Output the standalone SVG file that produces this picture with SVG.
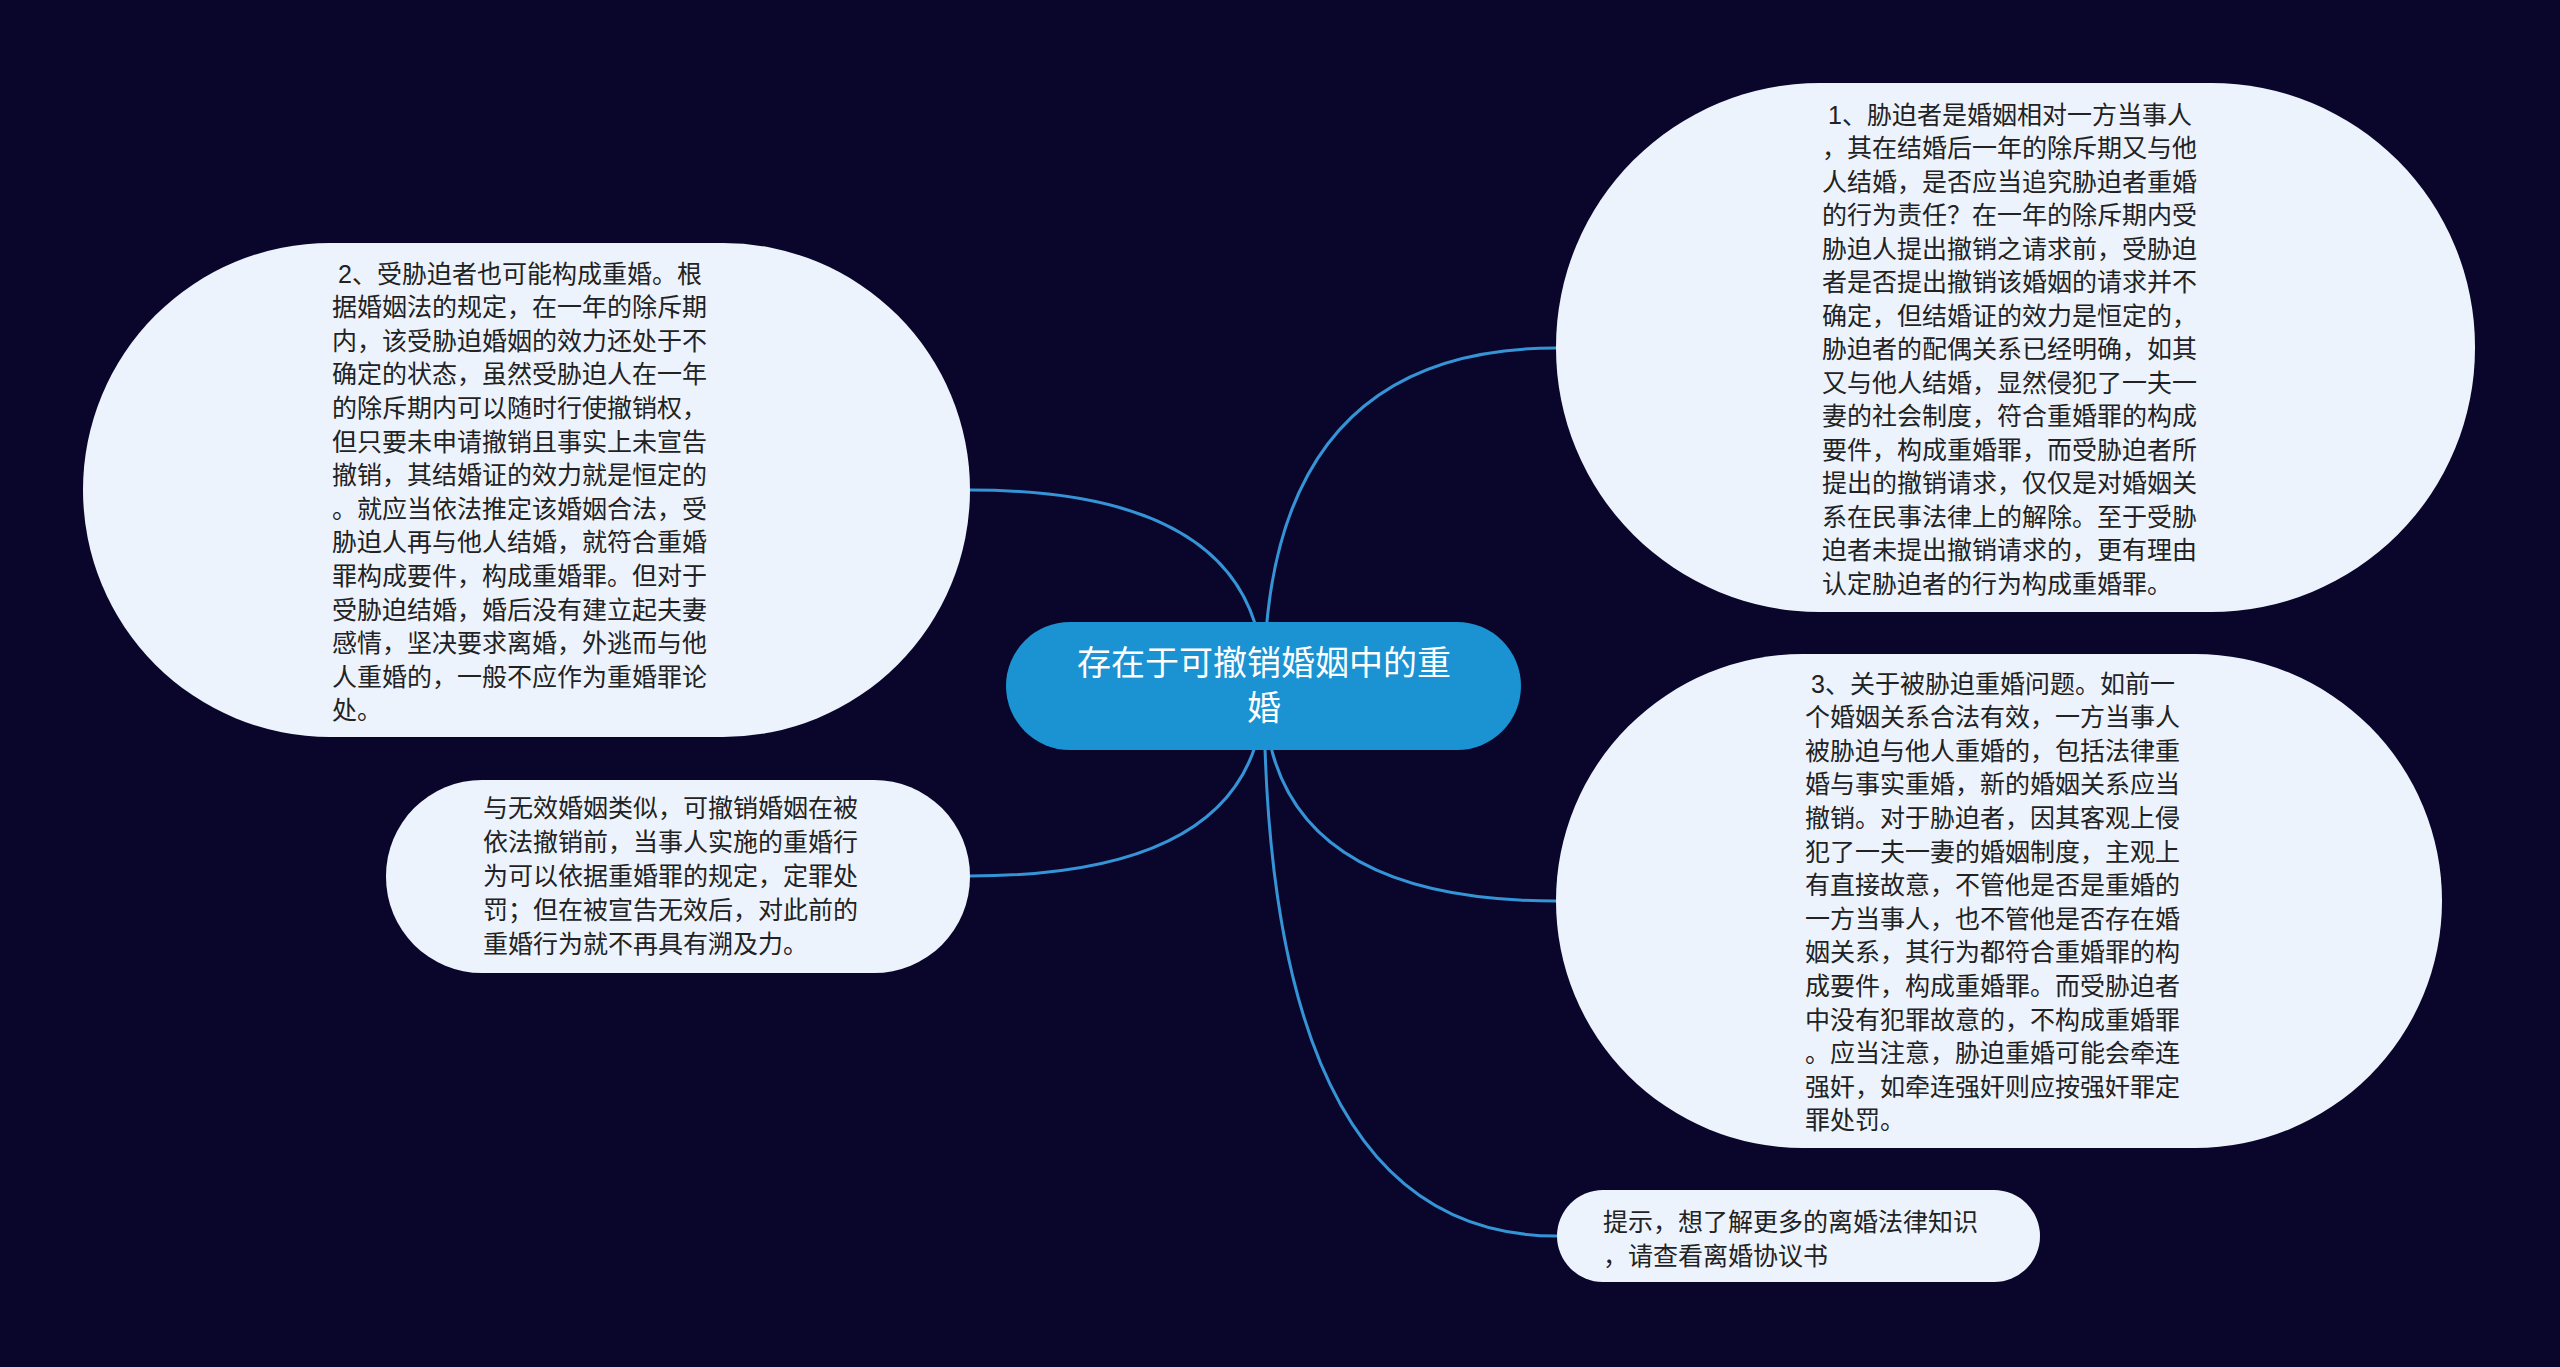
<svg xmlns="http://www.w3.org/2000/svg" width="2560" height="1367" viewBox="0 0 2560 1367">
<style>
.bg{fill:#0a062b}
.node{fill:#edf3fd}
.root{fill:#1b92d2}
.link{fill:none;stroke:#3594d6;stroke-width:3}
.t{font-family:"Liberation Sans","Noto Sans CJK SC",sans-serif;font-size:25px;fill:#222222}
.rt{font-family:"Liberation Sans","Noto Sans CJK SC",sans-serif;font-size:34px;fill:#ffffff;text-anchor:middle}
</style>
<rect class="bg" x="0" y="0" width="2560" height="1367"/>
<g id="connectors">
<path class="link" d="M1264,686 Q1264,348 1556,348"/>
<path class="link" d="M1264,686 Q1264,490 970,490"/>
<path class="link" d="M1264,686 Q1264,876 970,876"/>
<path class="link" d="M1264,686 Q1264,901 1556,901"/>
<path class="link" d="M1264,686 Q1264,1236 1557,1236"/>
</g>
<g id="root">
<rect class="root" x="1006" y="622" width="515" height="128" rx="64" ry="64"/>
<text class="rt" x="1264" y="675">存在于可撤销婚姻中的重</text>
<text class="rt" x="1264" y="720">婚</text>
</g>
<g id="node1">
<rect class="node" x="1556" y="83" width="919" height="529" rx="264" ry="264"/>
<text class="t" x="1822" y="123.5">
<tspan x="1828">1、胁迫者是婚姻相对一方当事人</tspan>
<tspan x="1822" dy="33.5">，其在结婚后一年的除斥期又与他</tspan>
<tspan x="1822" dy="33.5">人结婚，是否应当追究胁迫者重婚</tspan>
<tspan x="1822" dy="33.5">的行为责任？在一年的除斥期内受</tspan>
<tspan x="1822" dy="33.5">胁迫人提出撤销之请求前，受胁迫</tspan>
<tspan x="1822" dy="33.5">者是否提出撤销该婚姻的请求并不</tspan>
<tspan x="1822" dy="33.5">确定，但结婚证的效力是恒定的，</tspan>
<tspan x="1822" dy="33.5">胁迫者的配偶关系已经明确，如其</tspan>
<tspan x="1822" dy="33.5">又与他人结婚，显然侵犯了一夫一</tspan>
<tspan x="1822" dy="33.5">妻的社会制度，符合重婚罪的构成</tspan>
<tspan x="1822" dy="33.5">要件，构成重婚罪，而受胁迫者所</tspan>
<tspan x="1822" dy="33.5">提出的撤销请求，仅仅是对婚姻关</tspan>
<tspan x="1822" dy="33.5">系在民事法律上的解除。至于受胁</tspan>
<tspan x="1822" dy="33.5">迫者未提出撤销请求的，更有理由</tspan>
<tspan x="1822" dy="33.5">认定胁迫者的行为构成重婚罪。</tspan>
</text>
</g>
<g id="node2">
<rect class="node" x="83" y="243" width="887" height="494" rx="247" ry="247"/>
<text class="t" x="332" y="282.5">
<tspan x="338">2、受胁迫者也可能构成重婚。根</tspan>
<tspan x="332" dy="33.6">据婚姻法的规定，在一年的除斥期</tspan>
<tspan x="332" dy="33.6">内，该受胁迫婚姻的效力还处于不</tspan>
<tspan x="332" dy="33.6">确定的状态，虽然受胁迫人在一年</tspan>
<tspan x="332" dy="33.6">的除斥期内可以随时行使撤销权，</tspan>
<tspan x="332" dy="33.6">但只要未申请撤销且事实上未宣告</tspan>
<tspan x="332" dy="33.6">撤销，其结婚证的效力就是恒定的</tspan>
<tspan x="332" dy="33.6">。就应当依法推定该婚姻合法，受</tspan>
<tspan x="332" dy="33.6">胁迫人再与他人结婚，就符合重婚</tspan>
<tspan x="332" dy="33.6">罪构成要件，构成重婚罪。但对于</tspan>
<tspan x="332" dy="33.6">受胁迫结婚，婚后没有建立起夫妻</tspan>
<tspan x="332" dy="33.6">感情，坚决要求离婚，外逃而与他</tspan>
<tspan x="332" dy="33.6">人重婚的，一般不应作为重婚罪论</tspan>
<tspan x="332" dy="33.6">处。</tspan>
</text>
</g>
<g id="node3">
<rect class="node" x="1556" y="654" width="886" height="494" rx="247" ry="247"/>
<text class="t" x="1805" y="692.5">
<tspan x="1811">3、关于被胁迫重婚问题。如前一</tspan>
<tspan x="1805" dy="33.6">个婚姻关系合法有效，一方当事人</tspan>
<tspan x="1805" dy="33.6">被胁迫与他人重婚的，包括法律重</tspan>
<tspan x="1805" dy="33.6">婚与事实重婚，新的婚姻关系应当</tspan>
<tspan x="1805" dy="33.6">撤销。对于胁迫者，因其客观上侵</tspan>
<tspan x="1805" dy="33.6">犯了一夫一妻的婚姻制度，主观上</tspan>
<tspan x="1805" dy="33.6">有直接故意，不管他是否是重婚的</tspan>
<tspan x="1805" dy="33.6">一方当事人，也不管他是否存在婚</tspan>
<tspan x="1805" dy="33.6">姻关系，其行为都符合重婚罪的构</tspan>
<tspan x="1805" dy="33.6">成要件，构成重婚罪。而受胁迫者</tspan>
<tspan x="1805" dy="33.6">中没有犯罪故意的，不构成重婚罪</tspan>
<tspan x="1805" dy="33.6">。应当注意，胁迫重婚可能会牵连</tspan>
<tspan x="1805" dy="33.6">强奸，如牵连强奸则应按强奸罪定</tspan>
<tspan x="1805" dy="33.6">罪处罚。</tspan>
</text>
</g>
<g id="node4">
<rect class="node" x="386" y="780" width="584" height="193" rx="96" ry="96"/>
<text class="t" x="483" y="816.5">
<tspan x="483">与无效婚姻类似，可撤销婚姻在被</tspan>
<tspan x="483" dy="34">依法撤销前，当事人实施的重婚行</tspan>
<tspan x="483" dy="34">为可以依据重婚罪的规定，定罪处</tspan>
<tspan x="483" dy="34">罚；但在被宣告无效后，对此前的</tspan>
<tspan x="483" dy="34">重婚行为就不再具有溯及力。</tspan>
</text>
</g>
<g id="node5">
<rect class="node" x="1557" y="1190" width="483" height="92" rx="46" ry="46"/>
<text class="t" x="1603" y="1231">
<tspan x="1603">提示，想了解更多的离婚法律知识</tspan>
<tspan x="1603" dy="33.5">，请查看离婚协议书</tspan>
</text>
</g>
</svg>
